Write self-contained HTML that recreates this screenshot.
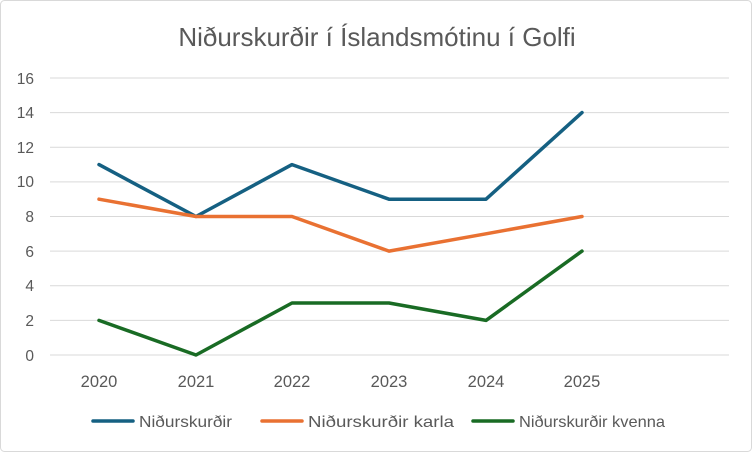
<!DOCTYPE html>
<html><head><meta charset="utf-8"><style>
html,body{margin:0;padding:0;background:#fff;}
svg{display:block;font-family:"Liberation Sans",sans-serif;}
</style></head><body>
<svg width="752" height="452" viewBox="0 0 752 452" xmlns="http://www.w3.org/2000/svg">
<rect x="0.5" y="0.5" width="751" height="451" rx="4" fill="#fff" stroke="#d9d9d9"/>
<text x="377" y="46" text-anchor="middle" font-size="26" fill="#595959">Niðurskurðir í Íslandsmótinu í Golfi</text>
<g stroke="#d9d9d9" stroke-width="1">
<line x1="50" x2="729" y1="355" y2="355"/>
<line x1="50" x2="729" y1="320.4" y2="320.4"/>
<line x1="50" x2="729" y1="285.75" y2="285.75"/>
<line x1="50" x2="729" y1="251.1" y2="251.1"/>
<line x1="50" x2="729" y1="216.5" y2="216.5"/>
<line x1="50" x2="729" y1="181.9" y2="181.9"/>
<line x1="50" x2="729" y1="147.25" y2="147.25"/>
<line x1="50" x2="729" y1="112.6" y2="112.6"/>
<line x1="50" x2="729" y1="78" y2="78"/>
</g>
<g font-size="15.5" fill="#595959" text-anchor="end">
<text x="34" y="361">0</text><text x="34" y="326">2</text><text x="34" y="291">4</text>
<text x="34" y="257">6</text><text x="34" y="222">8</text><text x="34" y="187">10</text>
<text x="34" y="153">12</text><text x="34" y="118">14</text><text x="34" y="84">16</text>
</g>
<g font-size="16.5" fill="#595959" text-anchor="middle">
<text x="99" y="387">2020</text><text x="196" y="387">2021</text><text x="292" y="387">2022</text>
<text x="389" y="387">2023</text><text x="486" y="387">2024</text><text x="582" y="387">2025</text>
</g>
<g fill="none" stroke-width="3.5" stroke-linejoin="round" stroke-linecap="round">
<polyline stroke="#156082" points="99,164.6 196,216.5 292,164.6 389,199.2 486,199.2 582,112.6"/>
<polyline stroke="#E97132" points="99,199.2 196,216.5 292,216.5 389,251.1 486,233.8 582,216.5"/>
<polyline stroke="#196B24" points="99,320.4 196,355 292,303 389,303 486,320.4 582,251.1"/>
</g>
<g font-size="16" fill="#595959">
<line x1="93" x2="133" y1="421" y2="421" stroke="#156082" stroke-width="3.5" stroke-linecap="round"/>
<text x="139" y="427" textLength="93" lengthAdjust="spacingAndGlyphs">Niðurskurðir</text>
<line x1="262" x2="302" y1="421" y2="421" stroke="#E97132" stroke-width="3.5" stroke-linecap="round"/>
<text x="308" y="427" textLength="146" lengthAdjust="spacingAndGlyphs">Niðurskurðir karla</text>
<line x1="473" x2="513" y1="421" y2="421" stroke="#196B24" stroke-width="3.5" stroke-linecap="round"/>
<text x="519" y="427" textLength="146" lengthAdjust="spacingAndGlyphs">Niðurskurðir kvenna</text>
</g>
</svg>
</body></html>
